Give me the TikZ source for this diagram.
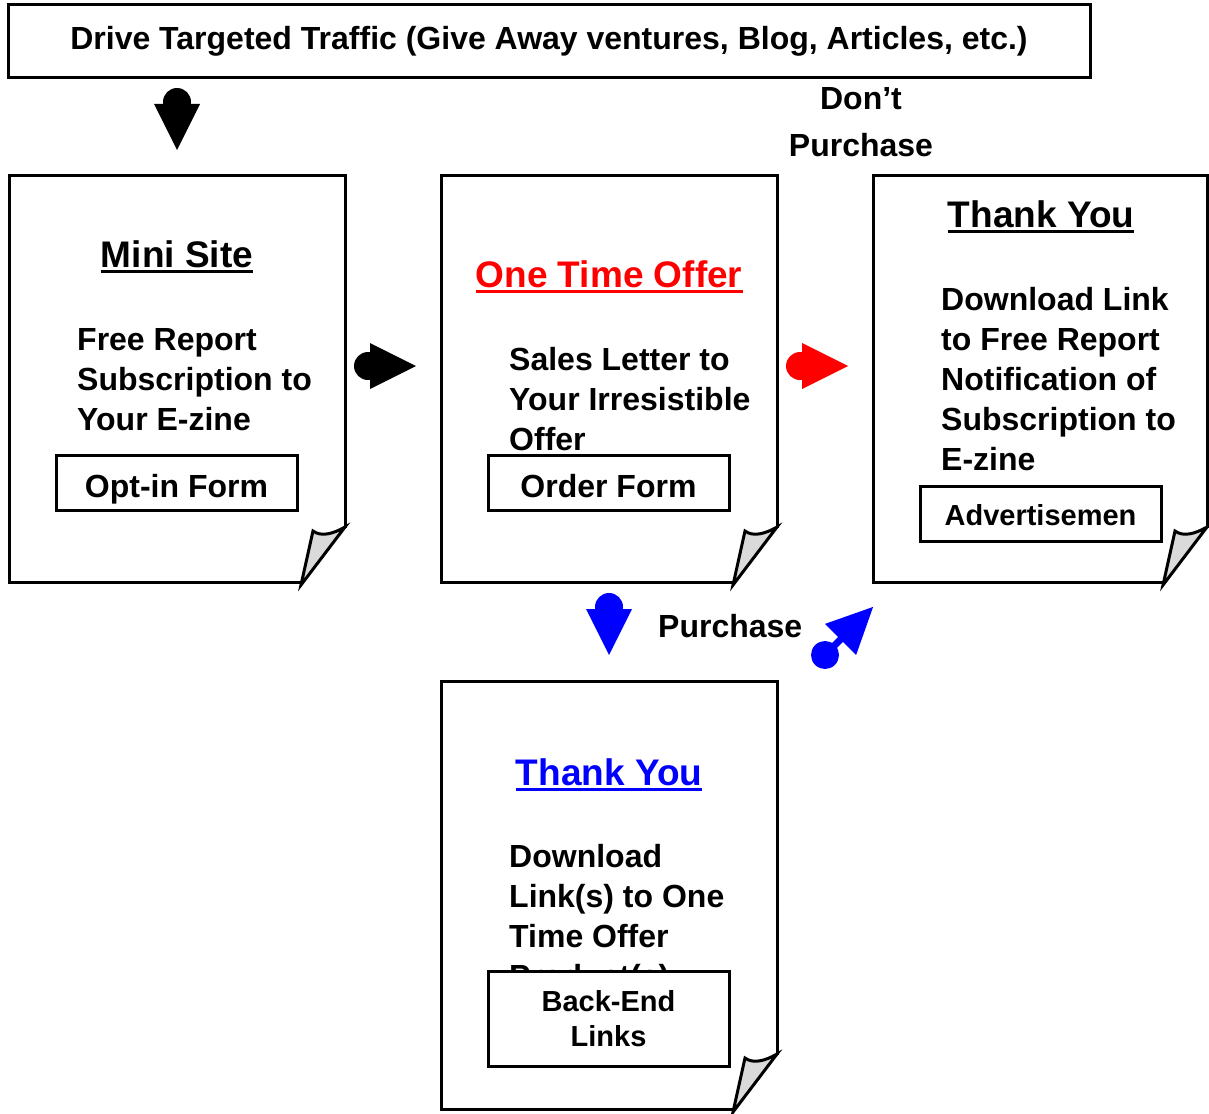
\documentclass[tikz,border=0pt]{standalone}
\usepackage{fontspec}
\setmainfont{Liberation Sans}
\newcommand\bodyfont{\fontsize{32}{40}\selectfont\bfseries}
\newcommand\smallbodyfont{\fontsize{29}{35}\selectfont\bfseries}
\newcommand\titlefont{\fontsize{37}{44}\selectfont\bfseries}
\definecolor{curlgray}{RGB}{218,218,218}
\definecolor{pureblue}{RGB}{0,0,255}
\definecolor{purered}{RGB}{255,0,0}
\tikzset{
  pageline/.style={draw=black, line width=3pt, line join=miter},
  curl/.style={draw=black, line width=3pt, fill=curlgray, line join=miter},
  ibox/.style={draw=black, line width=3pt, fill=white, inner sep=0pt, minimum width=241pt},
  body/.style={font=\bodyfont, anchor=base west, inner sep=0pt},
  ttl/.style={font=\titlefont, anchor=base, inner sep=0pt},
  uline/.style={line width=2.7pt},
}
% page with curled corner: x1,y1,x2,y2
\newcommand\docpage[4]{%
  \fill[white] (#1,#2) -- (#3,#2) -- ({#3},{#4-54}) -- ({#3-44},{#4+3}) -- ({#3-44},{#4}) -- (#1,#4) -- cycle;
  \draw[pageline] ({#3},{#4-54}) -- (#3,#2) -- (#1,#2) -- (#1,#4) -- ({#3-43},{#4});
  \draw[curl] ({#3-44},{#4+3}) -- ({#3-32},{#4-51}) .. controls ({#3-24},{#4-45}) and ({#3-12},{#4-48}) .. ({#3},{#4-55}) -- cycle;
}
% block arrow: circle centre x,y, angle, colour
\newcommand\blockarrow[4]{%
  \begin{scope}[shift={(#1,#2)},rotate=#3]
    \fill[#4] (0,0) circle[radius=14];
    \fill[#4] (2,-23) -- (48,0) -- (2,23) -- cycle;
  \end{scope}}
\newcommand\shaftarrow[4]{%
  \begin{scope}[shift={(#1,#2)},rotate=#3]
    \fill[#4] (0,0) circle[radius=14];
    \draw[#4, line width=7pt] (0,0) -- (25,0);
    \fill[#4] (22,-22) -- (68,0) -- (22,22) -- cycle;
  \end{scope}}
\begin{document}
\begin{tikzpicture}[x=1pt,y=-1pt]
\useasboundingbox (0,0) rectangle (1209,1113);
\fill[white] (0,0) rectangle (1209,1113);

% top box
\node[draw=black, line width=3pt, inner sep=0pt, minimum width=1082pt, minimum height=73pt, font=\bodyfont] (traffic) at (549,41.5) {Drive Targeted Traffic (Give Away ventures, Blog, Articles, etc.)};

% pages
\docpage{9}{175}{345}{582}
\docpage{441}{175}{777}{582}
\docpage{873}{175}{1207}{582}
\docpage{441}{681}{777}{1109}

% arrows
\blockarrow{177}{102}{-90}{black}
\blockarrow{368}{366}{0}{black}
\blockarrow{800}{366}{0}{purered}
\blockarrow{609}{607}{-90}{pureblue}
\shaftarrow{825}{655}{45}{pureblue}

% page 1: Mini Site
\node[ttl] (t1) at (177,267) {Mini Site};
\draw[uline] ([yshift=-4.5pt]t1.base west) -- ([yshift=-4.5pt]t1.base east);
\node[body] (a1) at (77,350) {Free Report};
\node[body] (a2) at (77,390) {Subscription to};
\node[body] (a3) at (77,430) {Your E-zine};
\node[ibox, minimum height=55pt, font=\bodyfont, text height=29pt, text depth=0pt] (optin) at (176.5,482.5) {Opt-in Form};

% page 2: One Time Offer
\node[ttl, text=purered] (t2) at (609,287) {One Time Offer};
\draw[uline, purered] ([yshift=-4.5pt]t2.base west) -- ([yshift=-4.5pt]t2.base east);
\node[body] (b1) at (509,370) {Sales Letter to};
\node[body] (b2) at (509,410) {Your Irresistible};
\node[body] (b3) at (509,450) {Offer};
\node[ibox, minimum height=55pt, font=\bodyfont, text height=29pt, text depth=0pt] (order) at (608.5,482.5) {Order Form};

% page 3: Thank You
\node[ttl] (t3) at (1041,227) {Thank You};
\draw[uline] ([yshift=-4.5pt]t3.base west) -- ([yshift=-4.5pt]t3.base east);
\node[body] (c1) at (941,310) {Download Link};
\node[body] (c2) at (941,350) {to Free Report};
\node[body] (c3) at (941,390) {Notification of};
\node[body] (c4) at (941,430) {Subscription to};
\node[body] (c5) at (941,470) {E-zine};
\node[ibox, minimum height=55pt, font=\smallbodyfont, text height=24pt, text depth=0pt] (advert) at (1040.5,513.5) {Advertisemen};

% labels
\node[font=\bodyfont, anchor=base, inner sep=0pt] (dp1) at (861,110) {Don’t};
\node[font=\bodyfont, anchor=base, inner sep=0pt] (dp2) at (861,157) {Purchase};
\node[body] (pur) at (658,637) {Purchase};

% page 4: Thank You (blue)
\node[ttl, text=pureblue] (t4) at (609,785) {Thank You};
\draw[uline, pureblue] ([yshift=-4.5pt]t4.base west) -- ([yshift=-4.5pt]t4.base east);
\node[body] (d1) at (509,867) {Download};
\node[body] (d2) at (509,907) {Link(s) to One};
\node[body] (d3) at (509,947) {Time Offer};
\node[body] (d4) at (509,987) {Product(s)};
\node[ibox, minimum height=95pt, font=\smallbodyfont, align=center] (backend) at (608.5,1018.5) {Back-End\\Links};
\end{tikzpicture}
\end{document}
